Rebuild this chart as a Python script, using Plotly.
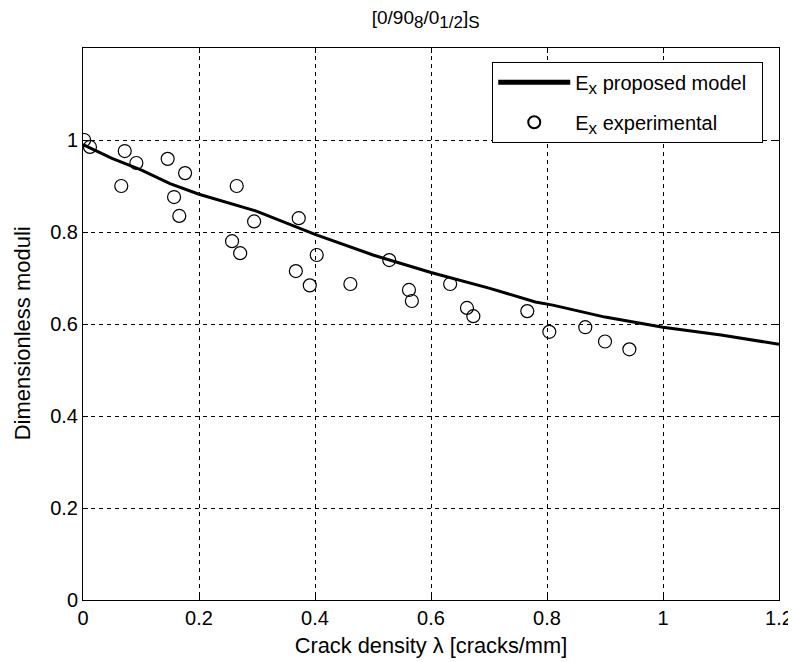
import plotly.graph_objects as go

# Model curve (proposed model)
model_x = [0.0, 0.05, 0.1, 0.15, 0.2, 0.3, 0.4, 0.5, 0.6, 0.7, 0.78, 0.81, 0.9, 1.0, 1.1, 1.2]
model_y = [0.99, 0.96, 0.935, 0.905, 0.882, 0.845, 0.795, 0.75, 0.712, 0.678, 0.648, 0.641, 0.615, 0.593, 0.576, 0.556]

# Experimental points
exp_x = [0.002, 0.012, 0.072, 0.092, 0.066, 0.146, 0.176, 0.157, 0.166, 0.265, 0.295, 0.257, 0.271,
         0.372, 0.367, 0.391, 0.403, 0.461, 0.528, 0.562, 0.567, 0.633, 0.662, 0.673, 0.766, 0.804,
         0.866, 0.900, 0.942]
exp_y = [1.0, 0.985, 0.976, 0.95, 0.90, 0.959, 0.928, 0.876, 0.835, 0.90, 0.823, 0.780, 0.754,
         0.830, 0.715, 0.684, 0.750, 0.687, 0.739, 0.674, 0.650, 0.687, 0.635, 0.617, 0.628, 0.583,
         0.593, 0.562, 0.545]

x_ticks = [0, 0.2, 0.4, 0.6, 0.8, 1, 1.2]
x_tick_labels = ["0", "0.2", "0.4", "0.6", "0.8", "1", "1.2"]
y_ticks = [0, 0.2, 0.4, 0.6, 0.8, 1]
y_tick_labels = ["0", "0.2", "0.4", "0.6", "0.8", "1"]

FONT = "Liberation Sans, Arial"


def sub(t, size):
    return "<sub><span style='font-size:%dpx'>%s</span></sub>" % (size, t)


fig = go.Figure()
fig.add_trace(go.Scatter(
    x=model_x, y=model_y, mode="lines",
    line=dict(color="black", width=3),
    name="E" + sub("x", 17) + " proposed model&nbsp;&nbsp;",
    legendgroup="a",
))
fig.add_trace(go.Scatter(
    x=exp_x, y=exp_y, mode="markers",
    marker=dict(symbol="circle-open", size=13, color="black", line=dict(width=1.2, color="black")),
    name="E" + sub("x", 17) + " experimental",
    legendgroup="b",
))

axis_common = dict(
    showline=True, linecolor="black", linewidth=1, mirror="ticks",
    ticks="inside", ticklen=5, tickcolor="black",
    showgrid=True, gridcolor="black", griddash="4px,4px", gridwidth=1,
    zeroline=False, automargin=False,
    tickfont=dict(family=FONT, size=20, color="black"),
)

fig.update_layout(
    width=788, height=654,
    margin=dict(l=75, r=17, t=40, b=62),
    paper_bgcolor="white", plot_bgcolor="white",
    title=dict(
        text="[0/90" + sub("8", 17) + "/0" + sub("1/2", 17) + "]" + sub("S", 17),
        x=0.53, xanchor="center", y=0.985, yanchor="middle",
        font=dict(family=FONT, size=19, color="black"),
    ),
    xaxis=dict(
        range=[0, 1.2], tickvals=x_ticks, ticktext=x_tick_labels,
        title=dict(text="Crack density λ [cracks/mm]", standoff=9,
                   font=dict(family=FONT, size=21.8, color="black")),
        **axis_common,
    ),
    yaxis=dict(
        range=[0, 1.2], tickvals=y_ticks, ticktext=y_tick_labels,
        **axis_common,
    ),
    legend=dict(
        x=0.588, y=0.975, xanchor="left", yanchor="top",
        bgcolor="white", bordercolor="black", borderwidth=1,
        font=dict(family=FONT, size=20, color="black"),
        itemsizing="constant", tracegroupgap=11, traceorder="grouped",
        itemwidth=72,
    ),
    showlegend=True,
    annotations=[dict(
        text="Dimensionless moduli", textangle=-90,
        xref="paper", yref="paper", x=-0.087, y=0.484,
        xanchor="center", yanchor="middle", showarrow=False,
        font=dict(family=FONT, size=22, color="black"),
    )],
)

fig.write_html("out.html")
